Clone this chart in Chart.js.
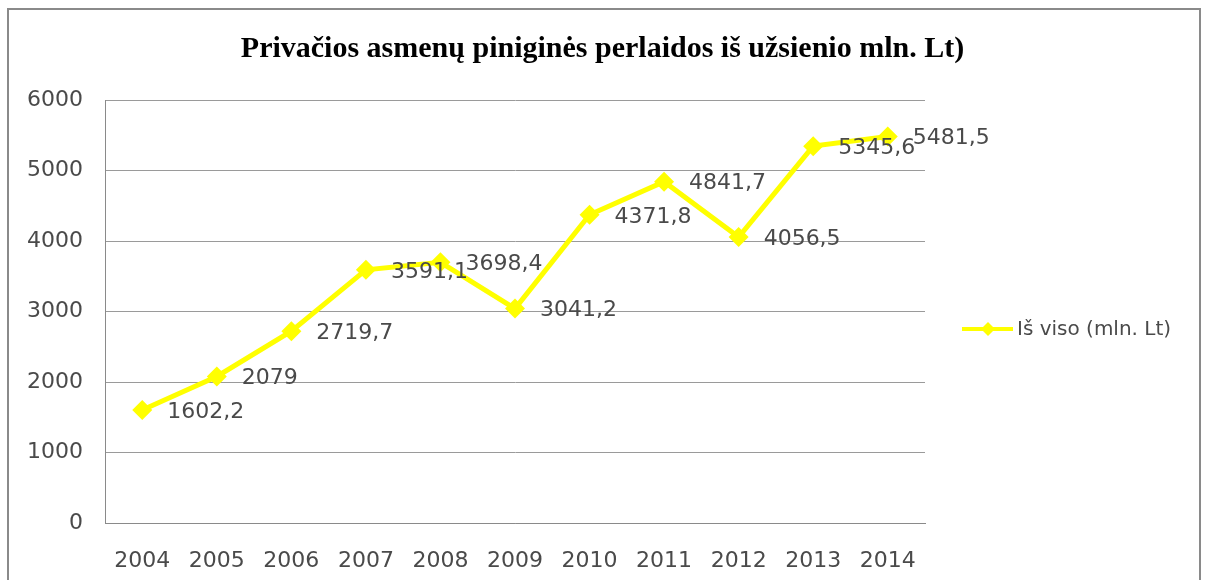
<!DOCTYPE html>
<html>
<head>
<meta charset="utf-8">
<script src="https://cdn.jsdelivr.net/npm/chart.js@4"></script>
<style>
    html, body { margin: 0; padding: 0; background: #fff; overflow: hidden; }
    #wrap { position: relative; width: 1205px; height: 580px; }
    #frame {
        position: absolute; left: 7px; top: 8px; width: 1190px; height: 600px;
        border: 2px solid #8a8a8a; pointer-events: none;
    }
</style>
</head>
<body>
<div id="wrap">
    <canvas id="chart" width="1205" height="580"></canvas>
    <div id="frame"></div>
</div>
<script>
// --- Data ---
const years = ['2004', '2005', '2006', '2007', '2008', '2009', '2010', '2011', '2012', '2013', '2014'];
const totals = [1602.2, 2079, 2719.7, 3591.1, 3698.4, 3041.2, 4371.8, 4841.7, 4056.5, 5345.6, 5481.5];
const seriesName = 'Iš viso (mln. Lt)';
const chartTitle = 'Privačios asmenų piniginės perlaidos iš užsienio mln. Lt)';

const axisFont = { family: "'DejaVu Sans', sans-serif", size: 22 };
const textColor = '#4a4a4a';
const lineColor = '#ffff00';

/**
 * Formats values the Lithuanian way (comma as decimal mark).
 */
function fmt(v) {
    return String(v).replace('.', ',');
}

// value labels to the right of every point
const valueLabels = {
    id: 'valueLabels',
    afterDatasetsDraw(chart) {
        const { ctx } = chart;
        const meta = chart.getDatasetMeta(0);
        ctx.save();
        ctx.font = `${axisFont.size}px ${axisFont.family}`;
        ctx.fillStyle = textColor;
        ctx.textAlign = 'left';
        ctx.textBaseline = 'middle';
        meta.data.forEach((pt, i) => {
            ctx.fillText(fmt(totals[i]), pt.x + 25, pt.y + 2);
        });
        ctx.restore();
    }
};

// legend on the right: line with a diamond, then the series name
const sideLegend = {
    id: 'sideLegend',
    afterDraw(chart) {
        const { ctx } = chart;
        const y = 329;
        ctx.save();
        ctx.strokeStyle = lineColor;
        ctx.lineWidth = 4;
        ctx.beginPath();
        ctx.moveTo(962, y);
        ctx.lineTo(1013, y);
        ctx.stroke();
        ctx.fillStyle = lineColor;
        ctx.beginPath();
        ctx.moveTo(988, y - 7);
        ctx.lineTo(995, y);
        ctx.lineTo(988, y + 7);
        ctx.lineTo(981, y);
        ctx.closePath();
        ctx.fill();
        ctx.font = `20px ${axisFont.family}`;
        ctx.fillStyle = textColor;
        ctx.textBaseline = 'middle';
        ctx.fillText(seriesName, 1017, y + 1);
        ctx.restore();
    }
};

new Chart(document.getElementById('chart'), {
    type: 'line',
    data: {
        labels: years,
        datasets: [{
            label: seriesName,
            data: totals,
            yAxisID: 'y',
            borderColor: lineColor,
            backgroundColor: lineColor,
            borderWidth: 5,
            pointStyle: 'rectRot',
            pointRadius: 10,
            pointHoverRadius: 10,
            pointBorderWidth: 0,
            tension: 0
        }]
    },
    options: {
        responsive: false,
        animation: false,
        layout: { padding: 0 },
        scales: {
            x: {
                offset: true,
                grid: { display: false },
                border: { display: true, color: '#8a8a8a', width: 1 },
                ticks: { font: axisFont, color: textColor, padding: 17 },
                afterFit: scale => { scale.height = 57; }
            },
            y: {
                min: 0,
                max: 6000,
                ticks: {
                    stepSize: 1000, font: axisFont, color: textColor, padding: 22,
                    callback: v => String(v)
                },
                grid: { color: '#9a9a9a', lineWidth: 1, drawTicks: false },
                border: { display: true, color: '#8a8a8a', width: 1 },
                afterFit: scale => { scale.width = 105; }
            },
            // empty right-hand axis reserves the room where the legend sits
            legendSpace: {
                position: 'right',
                min: 0,
                max: 6000,
                grid: { display: false },
                border: { display: false },
                ticks: { display: false },
                afterFit: scale => { scale.width = 280; }
            }
        },
        plugins: {
            legend: { display: false },
            tooltip: { enabled: false },
            title: {
                display: true,
                text: chartTitle,
                color: '#000',
                font: { family: "'Liberation Serif', serif", size: 30, weight: 'bold' },
                padding: { top: 31, bottom: 33 }
            }
        }
    },
    plugins: [valueLabels, sideLegend]
});
</script>
</body>
</html>
